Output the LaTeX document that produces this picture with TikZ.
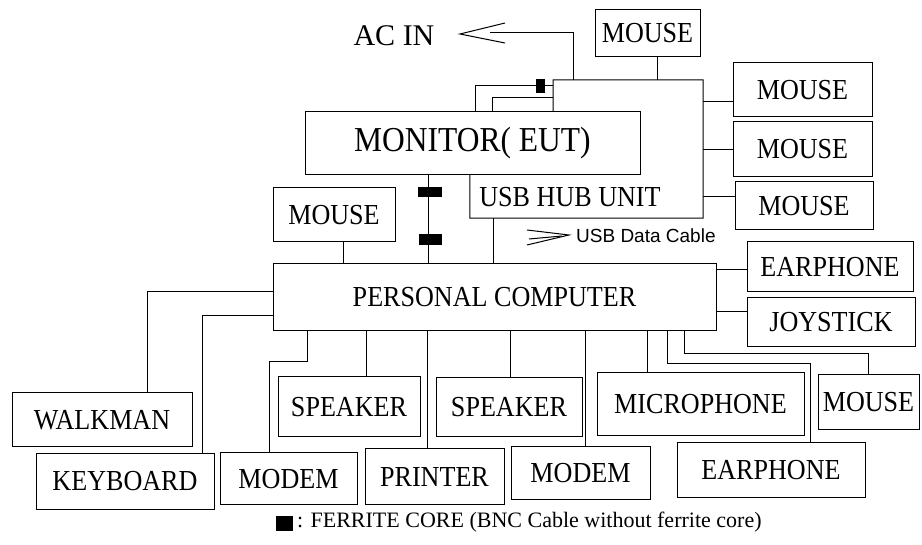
\documentclass[tikz,border=0pt]{standalone}
\usepackage{fontspec}
\setmainfont[FakeStretch=0.9]{Liberation Serif}
\newfontfamily\plainserif{Liberation Serif}
\newfontfamily\arialf{Liberation Sans}
\begin{document}
\begin{tikzpicture}[x=1pt,y=-1pt,
  box/.style={draw, line width=1pt, fill=white, inner sep=0pt, font=\fontsize{29}{31}\selectfont},
  wire/.style={line width=1pt},
  core/.style={fill=black, draw=none, inner sep=0pt},
  plain/.style={inner sep=0pt}]
\useasboundingbox (0,0) rectangle (922,545);

% USB hub outline (behind the monitor)
\node[plain, minimum width=233, minimum height=138] (hub) at (586.5,149) {};
\coordinate (hubNW) at (553,80);
\draw[wire] (hubNW) -- (hub.north east) -- (hub.south east) -- (hub.south west) -- (470,150) -- (553,150) -- cycle;
\node[plain, font=\fontsize{29}{31}\selectfont] (hubtxt) at (570,197) {USB HUB UNIT};

% boxes
\node[box, minimum width=105, minimum height=47] (mouseTop) at (647.5,33.5) {MOUSE};
\node[box, minimum width=139, minimum height=54] (mouseR1) at (802.5,90) {MOUSE};
\node[box, minimum width=139, minimum height=55] (mouseR2) at (802.5,149.5) {MOUSE};
\node[box, minimum width=138, minimum height=48] (mouseR3) at (804,206) {MOUSE};
\node[box, minimum width=335, minimum height=63, font=\fontsize{35}{37}\selectfont] (monitor) at (472.5,143.5) {MONITOR( EUT)};
\node[box, minimum width=122, minimum height=54] (mouseL) at (334,215) {MOUSE};
\node[box, minimum width=443, minimum height=67] (pc) at (494.5,297.5) {PERSONAL COMPUTER};
\node[box, minimum width=166, minimum height=50] (earR) at (830,267) {EARPHONE};
\node[box, minimum width=168, minimum height=49] (joy) at (831,322.5) {JOYSTICK};
\node[box, minimum width=180, minimum height=54] (walk) at (102,420) {WALKMAN};
\node[box, minimum width=178, minimum height=55] (key) at (125,481.5) {KEYBOARD};
\node[box, minimum width=137, minimum height=52] (modemA) at (288.5,479) {MODEM};
\node[box, minimum width=142, minimum height=60] (spkA) at (349,407) {SPEAKER};
\node[box, minimum width=139, minimum height=56] (printer) at (434.5,477) {PRINTER};
\node[box, minimum width=146, minimum height=59] (spkB) at (509,407.5) {SPEAKER};
\node[box, minimum width=139, minimum height=53] (modemB) at (580.5,473.5) {MODEM};
\node[box, minimum width=207, minimum height=63] (mic) at (700.5,404.5) {MICROPHONE};
\node[box, minimum width=188, minimum height=55] (earB) at (771,470.5) {EARPHONE};
\node[box, minimum width=101, minimum height=55] (mouseB) at (868.5,402.5) {MOUSE};

% AC IN
\node[plain, font=\plainserif\fontsize{30}{32}\selectfont] (ac) at (394,36) {AC IN};
\coordinate (acTip) at (460,34);
\coordinate (acEnd) at (490,33);
\draw[wire] (505,23) -- (acTip) -- (505,43);
\draw[wire] (hub.north -| 573,0) -- (573,33) -- (acEnd);

% hub connections
\draw[wire] (mouseTop.south -| 657,0) -- (hub.north -| 657,0);
\draw[wire] (hub.east |- 0,102) -- (mouseR1.west |- 0,102);
\draw[wire] (hub.east |- 0,150) -- (mouseR2.west |- 0,150);
\draw[wire] (hub.east |- 0,197) -- (mouseR3.west |- 0,197);

% monitor to hub cables
\draw[wire] (monitor.north -| 475,0) -- (475,86) -- (hubNW |- 0,86);
\draw[wire] (monitor.north -| 492,0) -- (492,98) -- (hubNW |- 0,98);
\node[core, minimum width=9, minimum height=14] (fA) at (540.5,86.5) {};

% monitor to PC with ferrite cores
\draw[wire] (monitor.south -| 428,0) -- (pc.north -| 428,0);
\node[core, minimum width=24, minimum height=10] (fB) at (430,192) {};
\node[core, minimum width=23, minimum height=11] (fC) at (430.5,239.5) {};

% hub to PC (USB)
\draw[wire] (hub.south -| 493,0) -- (pc.north -| 493,0);
\draw[wire] (527,230) -- (569,235) -- (527,245);
\draw[wire] (529,239) -- (562,236);
\node[plain, anchor=west, font=\arialf\fontsize{19}{21}\selectfont] (usbtxt) at (576,236) {USB Data Cable};

% mouse to PC
\draw[wire] (mouseL.south -| 343,0) -- (pc.north -| 343,0);

% PC left
\draw[wire] (pc.west |- 0,292) -| (walk.north -| 147,0);
\draw[wire] (pc.west |- 0,316) -| (key.north -| 202,0);

% PC bottom
\draw[wire] (pc.south -| 307,0) -- (307,362) -| (modemA.north -| 269,0);
\draw[wire] (pc.south -| 366,0) -- (spkA.north -| 366,0);
\draw[wire] (pc.south -| 427,0) -- (printer.north -| 427,0);
\draw[wire] (pc.south -| 510,0) -- (spkB.north -| 510,0);
\draw[wire] (pc.south -| 585,0) -- (modemB.north -| 585,0);
\draw[wire] (pc.south -| 647,0) -- (mic.north -| 647,0);
\draw[wire] (pc.south -| 667,0) -- (667,364) -| (earB.north -| 810,0);
\draw[wire] (pc.south -| 684,0) -- (684,354) -| (mouseB.north -| 868,0);

% PC right
\draw[wire] (pc.east |- 0,270) -- (earR.west |- 0,270);
\draw[wire] (pc.east |- 0,312) -- (joy.west |- 0,312);

% legend
\node[core, minimum width=17, minimum height=15] (lg) at (284,523) {};
\node[plain, anchor=west, font=\plainserif\fontsize{22}{24}\selectfont] (lgtxt) at (297,522) {: FERRITE CORE (BNC Cable without ferrite core)};
\end{tikzpicture}
\end{document}
